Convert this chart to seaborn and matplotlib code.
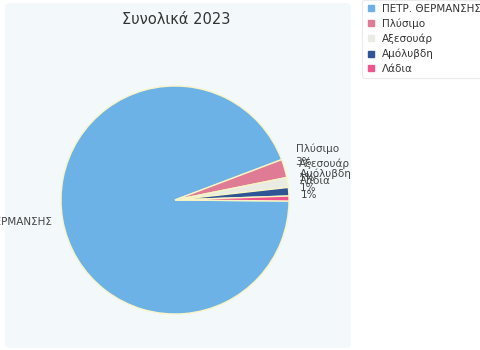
import matplotlib
matplotlib.use("Agg")
import matplotlib.pyplot as plt
from matplotlib.patches import FancyBboxPatch
from matplotlib.lines import Line2D
from matplotlib.transforms import offset_copy
import seaborn as sns
import numpy as np

categories = ["ΠΕΤΡ. ΘΕΡΜΑΝΣΗΣ", "Πλύσιμο", "Αξεσουάρ", "Αμόλυβδη", "Λάδια"]
values = [94.1, 2.6, 1.4, 1.2, 0.7]
pct_labels = ["", "3%", "1%", "1%", "1%"]
colors = ["#6cb2e6", "#e07b95", "#ebebe6", "#2f5597", "#f0548f"]
title = "Συνολικά 2023"

sns.set_theme(style="white")
plt.rcParams["font.family"] = ["DejaVu Sans"]

W, H = 480, 350
fig = plt.figure(figsize=(4.8, 3.5), dpi=100)
fig.patch.set_facecolor("white")

# panel background
panel = FancyBboxPatch((5 / W, 2 / H), 346 / W, 345 / H,
                       boxstyle="round,pad=0,rounding_size=0.012",
                       transform=fig.transFigure, facecolor="#f3f8fb",
                       edgecolor="none", zorder=-5)
fig.patches.append(panel)

fig.text(176 / W, 1 - 19 / H, title, ha="center", va="center",
         fontsize=10.5, color="#333333")

R = 114
half = 1.3 * R
cx, cy = 175, H - 200
ax = fig.add_axes([(cx - half) / W, (cy - half) / H, 2 * half / W, 2 * half / H])
ax.patch.set_alpha(0)

wedges, _ = ax.pie(values, colors=colors, startangle=-0.5, counterclock=False,
                   radius=1.0, wedgeprops=dict(edgecolor="#f8f5c4", linewidth=1.0))
ax.set_xlim(-1.3, 1.3)
ax.set_ylim(-1.3, 1.3)
ax.set_aspect("equal")
ax.axis("off")

name_tr = offset_copy(ax.transData, fig=fig, x=0, y=12.2, units="points")
pct_tr = offset_copy(ax.transData, fig=fig, x=0, y=2.2, units="points")

for i, w in enumerate(wedges):
    mid = np.deg2rad((w.theta1 + w.theta2) / 2)
    r = 1.1
    x, y = r * np.cos(mid), r * np.sin(mid)
    ha = "left" if x > 0 else "right"
    if pct_labels[i]:
        ax.text(x, y, categories[i], ha=ha, va="center", fontsize=7.5,
                color="#444444", clip_on=False, transform=name_tr)
        ax.text(x, y, pct_labels[i], ha=ha, va="center", fontsize=7.5,
                color="#444444", clip_on=False, transform=pct_tr)
    else:
        ax.text(x, y, categories[i], ha=ha, va="center", fontsize=7.5,
                color="#444444", clip_on=False)

handles = [Line2D([0], [0], marker="s", linestyle="none", markersize=5,
                  markerfacecolor=c, markeredgecolor=c) for c in colors]
leg = fig.legend(handles, categories, loc="upper left",
                 bbox_to_anchor=(362 / W, 1.0), borderaxespad=0.0,
                 frameon=True, fontsize=7.5,
                 labelspacing=0.45, handletextpad=0.6, borderpad=0.35,
                 handlelength=1.0, labelcolor="#333333")
leg.get_frame().set_facecolor("white")
leg.get_frame().set_edgecolor("#e6e6e6")
leg.get_frame().set_linewidth(0.8)

fig.savefig("out.png", dpi=100)
